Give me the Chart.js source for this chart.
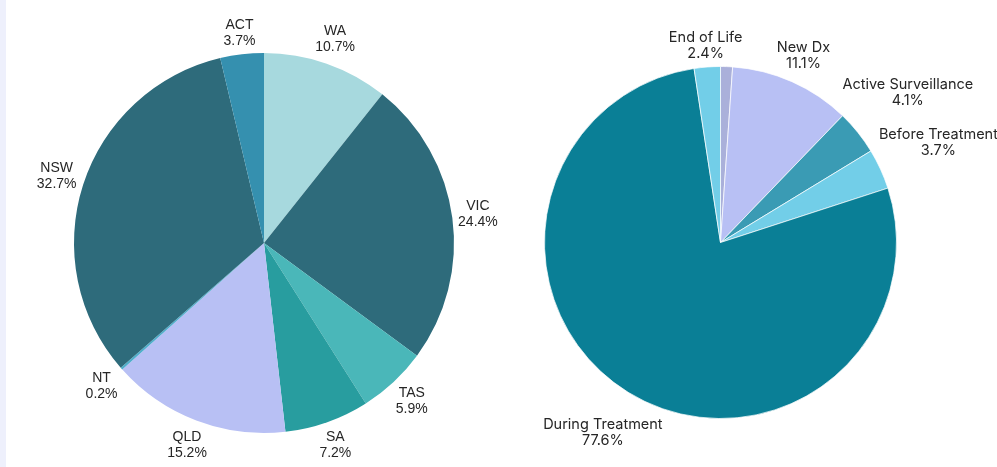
<!DOCTYPE html>
<html>
<head>
<meta charset="utf-8">
<script src="https://cdn.jsdelivr.net/npm/chart.js@4.4.1/dist/chart.umd.min.js"></script>
<style>
  html, body { margin: 0; padding: 0; background: #fff; }
  body { width: 997px; height: 467px; position: relative; overflow: hidden; }
  #edge { position: absolute; left: 0; top: 0; width: 6px; height: 467px; background: #eef0fc; }
  #stateChart { position: absolute; left: 0; top: 0; }
  #stageChart { position: absolute; left: 492px; top: 0; }
</style>
</head>
<body>
<div id="edge"></div>
<canvas id="stateChart" width="540" height="467"></canvas>
<canvas id="stageChart" width="505" height="467"></canvas>
<script>
// share of patients by state (percent)
const stateNames = ['WA', 'VIC', 'TAS', 'SA', 'QLD', 'NT', 'NSW', 'ACT'];
const stateShares = [10.7, 24.4, 5.9, 7.2, 15.2, 0.2, 32.7, 3.7];
const stateColors = ['#a7d9de', '#2e6b7b', '#4ab7b9', '#289d9f', '#b8c0f4', '#4faecb', '#2e6b7b', '#3590af'];

// share of patients by stage of care (percent); first slice has no label
const stageNames = ['', 'New Dx', 'Active Surveillance', 'Before Treatment', 'During Treatment', 'End of Life'];
const stageShares = [1.1, 11.1, 4.1, 3.7, 77.6, 2.4];
const stageColors = ['#aab0da', '#b8c0f4', '#3a9bb4', '#72cee8', '#0a7f96', '#72cee8'];

// two-line name / percent labels just outside each slice
const outerLabels = {
  id: 'outerLabels',
  afterDatasetsDraw(chart, args, opts) {
    const ctx = chart.ctx;
    const meta = chart.getDatasetMeta(0);
    const values = chart.data.datasets[0].data;
    ctx.save();
    ctx.font = opts.font;
    ctx.fillStyle = opts.color;
    ctx.textAlign = 'center';
    ctx.textBaseline = 'middle';
    meta.data.forEach((arc, i) => {
      const name = chart.data.labels[i];
      if (!name) return;
      const pct = values[i].toFixed(1) + '%';
      const p = arc.getProps(['x', 'y', 'startAngle', 'endAngle', 'outerRadius'], true);
      const mid = (p.startAngle + p.endAngle) / 2;
      const w = Math.max(ctx.measureText(name).width, ctx.measureText(pct).width);
      const h = opts.lineHeight * 2;
      const cos = Math.cos(mid), sin = Math.sin(mid);
      const dist = p.outerRadius + opts.pad + (w / 2) * Math.abs(cos) + (h / 2) * Math.abs(sin);
      const cx = p.x + cos * dist;
      const cy = p.y + sin * dist;
      ctx.fillText(name, cx, cy - opts.lineHeight / 2);
      ctx.fillText(pct, cx, cy + opts.lineHeight / 2);
    });
    ctx.restore();
  }
};

function makePie(id, names, shares, colors, border, padding, labelOpts) {
  return new Chart(document.getElementById(id), {
    type: 'pie',
    data: {
      labels: names,
      datasets: [{
        data: shares,
        backgroundColor: colors,
        borderColor: 'rgba(255,255,255,0.7)',
        borderWidth: border
      }]
    },
    options: {
      responsive: false,
      animation: false,
      layout: { padding: padding },
      plugins: {
        legend: { display: false },
        tooltip: { enabled: false },
        outerLabels: labelOpts
      }
    },
    plugins: [outerLabels]
  });
}

makePie('stateChart', stateNames, stateShares, stateColors, 0,
  { left: 74, right: 86, top: 53, bottom: 34 },
  { font: '14px "Liberation Sans", Arial, sans-serif', color: '#262626', lineHeight: 16, pad: 4 });

makePie('stageChart', stageNames, stageShares, stageColors, 1,
  { left: 52, right: 100, top: 66, bottom: 48 },
  { font: '14.5px Inter, "Noto Sans", sans-serif', color: '#262626', lineHeight: 16, pad: 3 });
</script>
</body>
</html>
